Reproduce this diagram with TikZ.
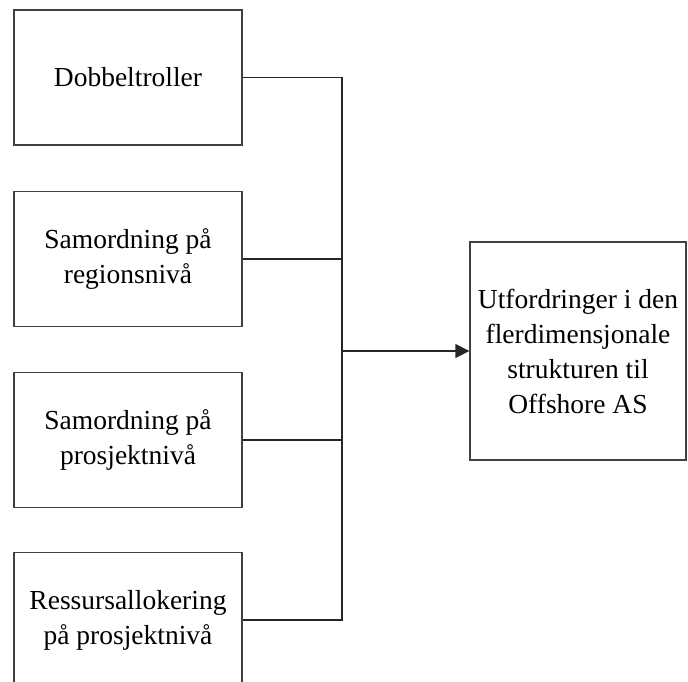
\documentclass[tikz,border=0pt]{standalone}
\usepackage{fontspec}
\setmainfont{Liberation Serif}
\usetikzlibrary{arrows.meta}
\begin{document}
\begin{tikzpicture}[x=1pt,y=-1pt,
  box/.style={draw=black!75,line width=1.3pt,minimum width=228pt,minimum height=135pt,
    align=center,font=\fontsize{27.5}{35}\selectfont,inner sep=0pt},
  bigbox/.style={box,minimum width=216pt,minimum height=218pt},
  conn/.style={draw=black!85,line width=1.3pt}]
\useasboundingbox (0,0) rectangle (688,681);
\clip (0,0) rectangle (688,681);
\node[box] (b1) at (128,77.5) {Dobbeltroller};
\node[box] (b2) at (128,259) {Samordning på\\regionsnivå};
\node[box] (b3) at (128,440) {Samordning på\\prosjektnivå};
\node[box] (b4) at (128,620) {Ressursallokering\\på prosjektnivå};
\node[bigbox] (r) at (578,351) {Utfordringer i den\\flerdimensjonale\\strukturen til\\Offshore AS};
\coordinate (top) at (342,77.5);
\coordinate (bot) at (342,620);
\coordinate (mid) at (342,351);
\draw[conn] (b1.east) -- (top) -- (bot) -- (b4.east);
\draw[conn] (b2.east) -- (b2.east -| top);
\draw[conn] (b3.east) -- (b3.east -| top);
\draw[conn,-{Triangle[length=14pt,width=14pt]}] (mid) -- (r.west);
\end{tikzpicture}
\end{document}
